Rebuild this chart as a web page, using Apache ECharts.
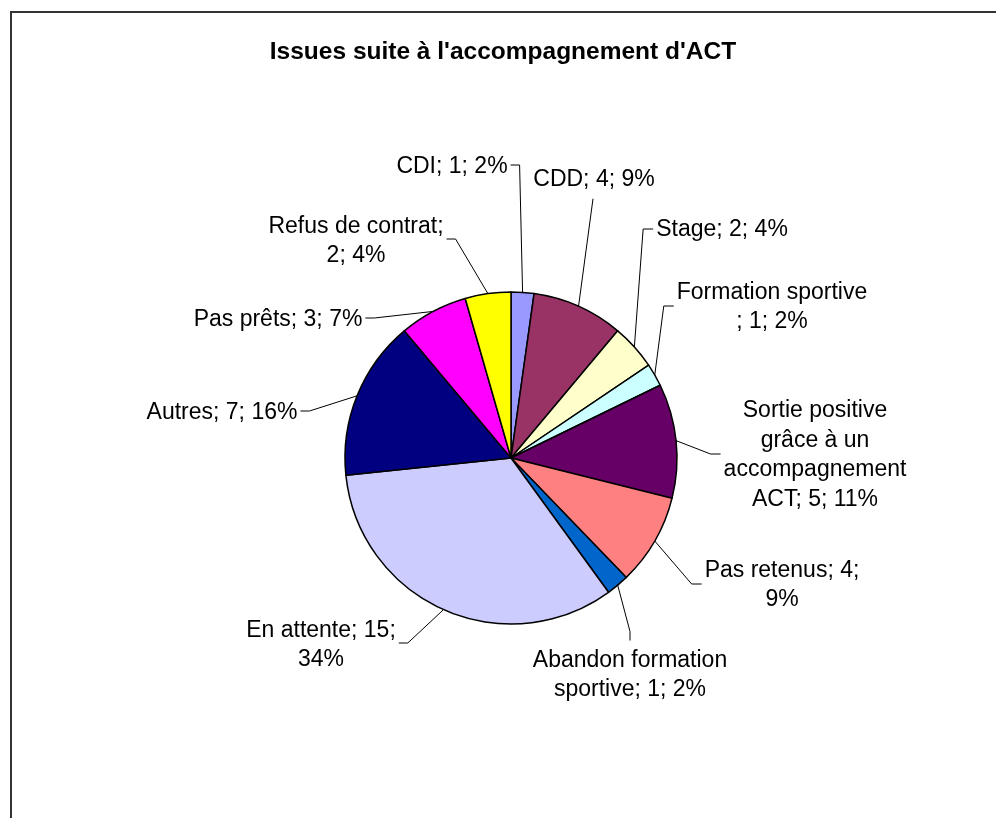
<!DOCTYPE html>
<html>
<head>
<meta charset="utf-8">
<script src="https://cdn.jsdelivr.net/npm/echarts@6/dist/echarts.min.js"></script>
<style>
html, body { margin: 0; padding: 0; background: #fff; }
#chart { width: 996px; height: 818px; }
</style>
</head>
<body>
<div id="chart"></div>
<script>
// ---- data ----
const titleText = "Issues suite à l'accompagnement d'ACT";
const categories = [
  'CDI', 'CDD', 'Stage', 'Formation sportive',
  'Sortie positive grâce à un accompagnement ACT',
  'Pas retenus', 'Abandon formation sportive', 'En attente',
  'Autres', 'Pas prêts', 'Refus de contrat'
];
const values = [1, 4, 2, 1, 5, 4, 1, 15, 7, 3, 2];
const percentLabels = ['2%', '9%', '4%', '2%', '11%', '9%', '2%', '34%', '16%', '7%', '4%'];

// ---- styling / layout ----
const colors = ['#9999FF', '#993366', '#FFFFCC', '#CCFFFF', '#660066', '#FF8080',
                '#0066CC', '#CCCCFF', '#000080', '#FF00FF', '#FFFF00'];
// where each label text wraps (break after these substrings)
const lineBreaks = [
  [], [], [], ['Formation sportive'],
  ['Sortie positive ', 'grâce à un ', 'accompagnement '],
  ['Pas retenus; 4; '], ['Abandon formation '], ['En attente; 15; '],
  [], [], ['Refus de contrat; ']
];
// centre of each label block
const labelPos = [
  [452, 167], [594, 180], [722, 230], [772, 307], [815, 455],
  [782, 585], [630, 675], [321, 645], [222, 413], [278, 320], [356, 241]
];
// side of the label where its leader line attaches
const attachSide = ['right', 'bottom', 'left', 'left', 'left', 'left', 'top', 'right', 'right', 'right', 'right'];

function labelText(i) {
  let t = categories[i] + '; ' + values[i] + '; ' + percentLabels[i];
  lineBreaks[i].forEach(function (tok) {
    t = t.replace(tok, tok.replace(/\s+$/, '') + '\n');
  });
  return t;
}

const chart = echarts.init(document.getElementById('chart'), null, { renderer: 'canvas' });

const option = {
  animation: false,
  backgroundColor: '#ffffff',
  graphic: [
    {
      type: 'rect',
      shape: { x: 11, y: 12, width: 1200, height: 1200 },
      style: { fill: 'none', stroke: '#333', lineWidth: 2 },
      silent: true
    },
    {
      type: 'text',
      x: 503, y: 52,
      style: {
        text: titleText,
        fontFamily: 'Liberation Sans, Arial, sans-serif',
        fontWeight: 'bold',
        fontSize: 24.5,
        fill: '#000',
        align: 'center',
        verticalAlign: 'middle'
      }
    }
  ],
  series: [{
    type: 'pie',
    center: [511, 458],
    radius: 166,
    startAngle: 90,
    clockwise: true,
    avoidLabelOverlap: false,
    silent: true,
    data: categories.map(function (c, i) {
      return { name: c, value: values[i], itemStyle: { color: colors[i] } };
    }),
    itemStyle: { borderColor: '#000', borderWidth: 1.5 },
    label: {
      show: true,
      position: 'outside',
      formatter: function (p) { return labelText(p.dataIndex); },
      fontFamily: 'Liberation Sans, Arial, sans-serif',
      fontSize: 23,
      lineHeight: 29.5,
      color: '#000',
      align: 'center'
    },
    labelLine: {
      show: true,
      length: 10,
      length2: 10,
      smooth: false,
      lineStyle: { color: '#000', width: 1 }
    },
    labelLayout: function (params) {
      const i = params.dataIndex;
      const cx = labelPos[i][0], cy = labelPos[i][1];
      const w = params.labelRect.width, h = params.labelRect.height;
      const left = cx - w / 2, right = cx + w / 2, top = cy - h / 2, bottom = cy + h / 2;
      const p0 = params.labelLinePoints ? [params.labelLinePoints[0][0], params.labelLinePoints[0][1]] : [cx, cy];
      let p1, p2;
      switch (attachSide[i]) {
        case 'right': p2 = [right + 3, cy - 2]; p1 = [right + 12, cy - 2]; break;
        case 'left': p2 = [left - 3, cy - 1]; p1 = [left - 13, cy - 1]; break;
        case 'bottom': p2 = [cx - 1, bottom + 4]; p1 = [cx - 1, bottom + 4]; break;
        case 'top': p2 = [cx, top - 5]; p1 = [cx, top - 14]; break;
      }
      return {
        x: cx, y: cy,
        align: 'center',
        verticalAlign: 'middle',
        labelLinePoints: [p0, p1, p2]
      };
    }
  }]
};

chart.setOption(option);
</script>
</body>
</html>
